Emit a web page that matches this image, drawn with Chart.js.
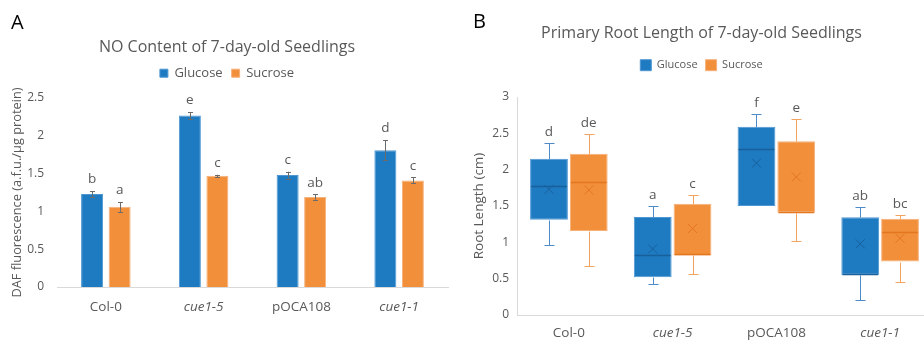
<!DOCTYPE html>
<html><head><meta charset="utf-8">
<script src="https://cdn.jsdelivr.net/npm/chart.js@4.4.0/dist/chart.umd.min.js"></script>
<style>
html,body{margin:0;padding:0;background:#fff;width:924px;height:341px;overflow:hidden}
#wa{position:absolute;left:0;top:0;width:460px;height:341px}
#wb{position:absolute;left:460px;top:0;width:464px;height:341px;overflow:hidden}
canvas{display:block}
</style></head><body>
<div id="wa"><canvas id="ca" width="460" height="341"></canvas></div>
<div id="wb"><canvas id="cb" width="472" height="341"></canvas></div>
<script>
// ---------- data ----------
const categories = ['Col-0', 'cue1-5', 'pOCA108', 'cue1-1'];
const seriesNames = ['Glucose', 'Sucrose'];

// Panel A: NO content (bars + SE)
const noGlucose = [1.23, 2.27, 1.48, 1.81];
const noSucrose = [1.06, 1.47, 1.19, 1.41];
const noGlucoseErr = [0.04, 0.045, 0.045, 0.135];
const noSucroseErr = [0.065, 0.015, 0.035, 0.04];
const noGlucoseLetters = ['b', 'e', 'c', 'd'];
const noSucroseLetters = ['a', 'c', 'ab', 'c'];
const noTicks = [0, 0.5, 1, 1.5, 2, 2.5];

// Panel B: root length (box plots)
const rootGlucoseMin = [0.96, 0.42, 1.50, 0.21];
const rootGlucoseQ1 = [1.31, 0.52, 1.50, 0.555];
const rootGlucoseMedian = [1.77, 0.82, 2.28, 0.555];
const rootGlucoseQ3 = [2.15, 1.35, 2.59, 1.345];
const rootGlucoseMax = [2.37, 1.50, 2.76, 1.49];
const rootGlucoseMean = [1.73, 0.91, 2.09, 0.98];
const rootSucroseMin = [0.68, 0.565, 1.02, 0.45];
const rootSucroseQ1 = [1.155, 0.82, 1.41, 0.735];
const rootSucroseMedian = [1.83, 0.82, 1.41, 1.145];
const rootSucroseQ3 = [2.22, 1.53, 2.39, 1.325];
const rootSucroseMax = [2.49, 1.655, 2.70, 1.38];
const rootSucroseMean = [1.72, 1.19, 1.90, 1.055];
const rootGlucoseLetters = ['d', 'a', 'f', 'ab'];
const rootSucroseLetters = ['de', 'c', 'e', 'bc'];
const rootTicks = [0, 0.5, 1, 1.5, 2, 2.5, 3];

// ---------- styles ----------
const F = "'Open Sans', 'Noto Sans', sans-serif";
const GREY = '#595959';
const BLUE = '#1f7bc1';
const ORANGE = '#f18f3b';
Chart.defaults.font.family = F;
Chart.defaults.color = GREY;

const xTickFont = (ctx) => ({ family: F, size: 13.5,
  style: (categories[ctx.index] || '').startsWith('cue') ? 'italic' : 'normal' });
const plainNum = v => String(v);

function panelLetter(letter, x, y) {
  return { id: 'panel' + letter, afterDraw(chart) {
    const c = chart.ctx; c.save();
    c.font = '20px ' + F; c.fillStyle = '#000'; c.textBaseline = 'alphabetic';
    c.fillText(letter, x, y); c.restore();
  }};
}

const errorPlugin = { id: 'errs', afterDatasetsDraw(chart) {
  const c = chart.ctx, ys = chart.scales.y;
  chart.data.datasets.forEach((ds, di) => {
    chart.getDatasetMeta(di).data.forEach((bar, i) => {
      const v = ds.data[i], e = ds.errors[i];
      const yt = ys.getPixelForValue(v + e), yb = ys.getPixelForValue(v - e);
      const x = Math.round(bar.x) + 0.5;
      c.save(); c.strokeStyle = '#6b6b6b'; c.lineWidth = 1;
      c.beginPath();
      c.moveTo(x, yt); c.lineTo(x, yb);
      c.moveTo(x - 2.5, Math.round(yt) + 0.5); c.lineTo(x + 2.5, Math.round(yt) + 0.5);
      c.moveTo(x - 2.5, Math.round(yb) + 0.5); c.lineTo(x + 2.5, Math.round(yb) + 0.5);
      c.stroke();
      c.font = '13.5px ' + F; c.fillStyle = GREY; c.textAlign = 'center'; c.textBaseline = 'middle';
      c.fillText(ds.letters[i], bar.x, yt - 11.5);
      c.restore();
    });
  });
}};

const boxPlugin = { id: 'boxes', afterDatasetsDraw(chart) {
  const c = chart.ctx, ys = chart.scales.y;
  chart.data.datasets.forEach((ds, di) => {
    chart.getDatasetMeta(di).data.forEach((bar, i) => {
      const x = Math.round(bar.x) + 0.5, hw = bar.width / 2;
      const py = v => Math.round(ys.getPixelForValue(v)) + 0.5;
      const yMin = py(ds.min[i]), yMax = py(ds.max[i]);
      const yQ1 = py(ds.data[i][0]), yQ3 = py(ds.data[i][1]);
      c.save(); c.lineWidth = 1; c.strokeStyle = ds.whiskerColor;
      c.beginPath();
      if (yMax < yQ3) { c.moveTo(x, yMax); c.lineTo(x, yQ3); c.moveTo(x - 5, yMax); c.lineTo(x + 5, yMax); }
      if (yMin > yQ1) { c.moveTo(x, yQ1); c.lineTo(x, yMin); c.moveTo(x - 5, yMin); c.lineTo(x + 5, yMin); }
      c.stroke();
      // median (kept inside the box outline)
      const ym = Math.min(Math.max(py(ds.median[i]), yQ3 + 1), yQ1 - 1);
      c.strokeStyle = ds.medianColor; c.lineWidth = 1.5;
      c.beginPath(); c.moveTo(bar.x - hw + 1, ym); c.lineTo(bar.x + hw - 1, ym); c.stroke();
      // mean X
      const yMean = ys.getPixelForValue(ds.mean[i]), s = 4.5;
      c.lineWidth = 1;
      c.beginPath();
      c.moveTo(bar.x - s, yMean - s); c.lineTo(bar.x + s, yMean + s);
      c.moveTo(bar.x - s, yMean + s); c.lineTo(bar.x + s, yMean - s);
      c.stroke();
      // letter
      c.font = '13.5px ' + F; c.fillStyle = GREY; c.textAlign = 'center'; c.textBaseline = 'middle';
      c.fillText(ds.letters[i], bar.x, yMax - 11.5);
      c.restore();
    });
  });
}};

function pinTop(chart, target) {
  const lg = chart.legend, orig = lg.fit; let extra = 0;
  lg.fit = function () { orig.call(this); this.height += extra; };
  extra = target - chart.chartArea.top;
  chart.update('none');
}

// ---------- Panel A ----------
const chartA = new Chart(document.getElementById('ca'), {
  type: 'bar',
  data: {
    labels: categories,
    datasets: [
      { label: seriesNames[0], data: noGlucose, errors: noGlucoseErr, letters: noGlucoseLetters,
        backgroundColor: BLUE, borderColor: '#4f97d3', borderWidth: 1,
        categoryPercentage: 0.563, barPercentage: 0.8 },
      { label: seriesNames[1], data: noSucrose, errors: noSucroseErr, letters: noSucroseLetters,
        backgroundColor: ORANGE, borderColor: '#f6b07a', borderWidth: 1,
        categoryPercentage: 0.563, barPercentage: 0.8 }
    ]
  },
  options: {
    responsive: false, animation: false, devicePixelRatio: 1,
    layout: { padding: { left: 6, right: 12, top: 0, bottom: 0 } },
    plugins: {
      title: { display: true, text: 'NO Content of 7-day-old Seedlings', color: GREY,
        font: { size: 16, weight: 'normal' }, padding: { top: 37.5, bottom: 1 } },
      legend: { display: true, labels: { boxWidth: 8, boxHeight: 8, padding: 9,
        color: GREY, font: { size: 13 } } },
      tooltip: { enabled: false }
    },
    scales: {
      x: { grid: { display: false, drawTicks: false }, border: { display: true, color: '#d9d9d9' },
        ticks: { padding: 12, color: GREY, font: xTickFont },
        afterFit: s => { s.height = 54; } },
      y: { min: 0, max: 2.5, grid: { display: false, drawTicks: false }, border: { display: false },
        afterBuildTicks: s => { s.ticks = noTicks.map(v => ({ value: v })); },
        ticks: { padding: 13, color: GREY, font: { size: 12 }, callback: plainNum },
        title: { display: true, text: 'DAF fluorescence (a.f.u./µg protein)', color: GREY,
          font: { size: 12.8 }, padding: { top: 3.5, bottom: 0 } },
        afterFit: s => { s.width = 51; } }
    }
  },
  plugins: [errorPlugin, panelLetter('A', 11, 29)]
});
pinTop(chartA, 98);

// ---------- Panel B ----------
const pairs = (lo, hi) => lo.map((v, i) => [v, hi[i]]);
const chartB = new Chart(document.getElementById('cb'), {
  type: 'bar',
  data: {
    labels: categories,
    datasets: [
      { label: seriesNames[0], data: pairs(rootGlucoseQ1, rootGlucoseQ3),
        min: rootGlucoseMin, max: rootGlucoseMax, median: rootGlucoseMedian, mean: rootGlucoseMean,
        letters: rootGlucoseLetters, whiskerColor: '#4d8ac8', medianColor: '#17609c',
        backgroundColor: BLUE, borderColor: '#4f97d3', borderWidth: 1, borderSkipped: false,
        categoryPercentage: 0.767, barPercentage: 0.95 },
      { label: seriesNames[1], data: pairs(rootSucroseQ1, rootSucroseQ3),
        min: rootSucroseMin, max: rootSucroseMax, median: rootSucroseMedian, mean: rootSucroseMean,
        letters: rootSucroseLetters, whiskerColor: '#f4a461', medianColor: '#e4761f',
        backgroundColor: ORANGE, borderColor: '#f6b07a', borderWidth: 1, borderSkipped: false,
        categoryPercentage: 0.767, barPercentage: 0.95 }
    ]
  },
  options: {
    responsive: false, animation: false, devicePixelRatio: 1,
    layout: { padding: { left: 11, right: 0, top: 0, bottom: 0 } },
    plugins: {
      title: { display: true, text: 'Primary Root Length of 7-day-old Seedlings', color: GREY,
        font: { size: 16, weight: 'normal' }, padding: { top: 23.5, bottom: 9 } },
      legend: { display: true, labels: { boxWidth: 11, boxHeight: 11, padding: 8,
        color: GREY, font: { size: 11 } } },
      tooltip: { enabled: false }
    },
    scales: {
      x: { grid: { display: false, drawTicks: false }, border: { display: true, color: '#d9d9d9' },
        ticks: { padding: 10, color: GREY, font: xTickFont },
        afterFit: s => { s.height = 26; } },
      y: { min: 0, max: 3, grid: { display: false, drawTicks: false }, border: { display: true, color: '#d9d9d9' },
        afterBuildTicks: s => { s.ticks = rootTicks.map(v => ({ value: v })); },
        ticks: { padding: 8, color: GREY, font: { size: 12 }, callback: plainNum },
        title: { display: true, text: 'Root Length (cm)', color: GREY,
          font: { size: 13.5 }, padding: { top: 0, bottom: 0 } },
        afterFit: s => { s.width = 46; } }
    }
  },
  plugins: [boxPlugin, panelLetter('B', 13, 28)]
});
pinTop(chartB, 97);
</script>
</body></html>
